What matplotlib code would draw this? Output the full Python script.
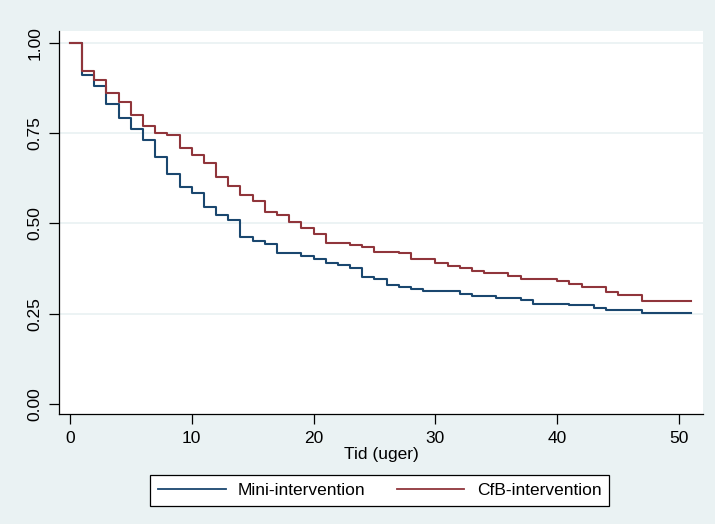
import numpy as np
import matplotlib
matplotlib.use("Agg")
import matplotlib.pyplot as plt

# Kaplan-Meier estimates, one value per week (0-51)
weeks = list(range(0, 52))

mini = [1.000, 0.911, 0.880, 0.831, 0.791, 0.761, 0.730, 0.684, 0.636, 0.600,
        0.583, 0.546, 0.522, 0.510, 0.463, 0.451, 0.443, 0.419, 0.419, 0.409,
        0.402, 0.389, 0.384, 0.376, 0.352, 0.347, 0.329, 0.323, 0.318, 0.312,
        0.312, 0.312, 0.305, 0.300, 0.300, 0.292, 0.292, 0.287, 0.278, 0.278,
        0.278, 0.273, 0.273, 0.266, 0.260, 0.260, 0.260, 0.253, 0.253, 0.253,
        0.253, 0.253]

cfb = [1.000, 0.920, 0.896, 0.861, 0.835, 0.800, 0.768, 0.751, 0.744, 0.709,
       0.689, 0.666, 0.628, 0.604, 0.579, 0.562, 0.532, 0.524, 0.504, 0.488,
       0.470, 0.445, 0.445, 0.440, 0.434, 0.421, 0.421, 0.418, 0.402, 0.402,
       0.390, 0.383, 0.375, 0.369, 0.362, 0.362, 0.355, 0.347, 0.347, 0.347,
       0.339, 0.332, 0.324, 0.324, 0.309, 0.301, 0.301, 0.284, 0.284, 0.284,
       0.284, 0.284]

labels = ["Mini-intervention", "CfB-intervention"]
x_ticks = [0, 10, 20, 30, 40, 50]
y_ticks = [0.00, 0.25, 0.50, 0.75, 1.00]

bg = "#EAF2F3"
blue = "#1A476F"
red = "#90353B"

plt.rcParams["font.family"] = ["Liberation Sans", "DejaVu Sans"]
plt.rcParams["font.size"] = 12.5

fig = plt.figure(figsize=(7.15, 5.24), dpi=100, facecolor=bg)
ax = fig.add_axes([0.0825, 0.2099, 0.9007, 0.7309])
ax.set_facecolor("white")

# gridlines (none at 0)
for y in y_ticks[1:]:
    ax.axhline(y, color=bg, lw=1.3, zorder=1)

ax.plot(weeks, mini, drawstyle="steps-post", color=blue, lw=1.5, label=labels[0], zorder=3)
ax.plot(weeks, cfb, drawstyle="steps-post", color=red, lw=1.5, label=labels[1], zorder=3)

ax.set_xlim(-0.9, 51.97)
ax.set_ylim(-0.0277, 1.032)
ax.set_xticks(x_ticks)
ax.set_yticks(y_ticks)
ax.set_yticklabels([f"{v:.2f}" for v in y_ticks])
ax.tick_params(axis="both", length=7, width=0.9, color="black", pad=5)
ax.tick_params(axis="y", labelrotation=90)
for lab in ax.get_yticklabels():
    lab.set_va("center")

for s in ["top", "right"]:
    ax.spines[s].set_visible(False)
for s in ["left", "bottom"]:
    ax.spines[s].set_linewidth(0.9)

ax.set_xlabel("Tid (uger)", labelpad=1)

leg = fig.legend(loc="center", bbox_to_anchor=(0.531, 0.064), ncol=2,
                 frameon=True, fancybox=False, framealpha=1, edgecolor="black",
                 handlelength=3.9, handletextpad=0.7, columnspacing=1.8,
                 borderpad=0.45, borderaxespad=0)
leg.get_frame().set_linewidth(0.9)
for line in leg.get_lines():
    line.set_linewidth(1.3)

fig.savefig("out.png", dpi=100, facecolor=bg)
